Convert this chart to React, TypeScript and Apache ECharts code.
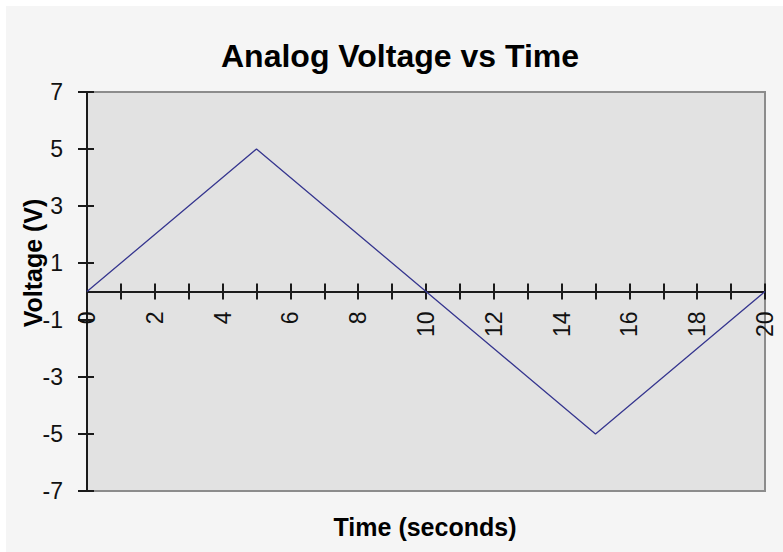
import React, { useEffect, useRef } from "react";
import * as echarts from "echarts";

const timeSeconds = [0, 1, 2, 3, 4, 5, 6, 7, 8, 9, 10, 11, 12, 13, 14, 15, 16, 17, 18, 19, 20];
const voltage = [0, 1, 2, 3, 4, 5, 4, 3, 2, 1, 0, -1, -2, -3, -4, -5, -4, -3, -2, -1, 0];
const yTickValues = [-7, -5, -3, -1, 1, 3, 5, 7];
const xLabelValues = [0, 2, 4, 6, 8, 10, 12, 14, 16, 18, 20];
const chartTitle = "Analog Voltage vs Time";
const xTitle = "Time (seconds)";
const yTitle = "Voltage (V)";

const FONT = "'Liberation Sans', Arial, sans-serif";
const OFF = 6;

export default function App() {
  const ref = useRef<HTMLDivElement>(null);
  useEffect(() => {
    if (!ref.current) return;
    const chart = echarts.init(ref.current, undefined, { renderer: "svg" });
    const axisColor = "#1a1a1a";
    const gridLeft = 87 - OFF;
    const gridTop = 92 - OFF;
    const gridRight = 18;
    const gridBottom = 61;
    const H = 552 - OFF;
    const plotH = H - gridTop - gridBottom;
    const lineStyle = { color: axisColor, width: 2 };
    chart.setOption({
      animation: false,
      backgroundColor: "#f5f5f5",
      grid: [
        {
          left: gridLeft,
          top: gridTop,
          right: gridRight,
          bottom: gridBottom,
          show: true,
          backgroundColor: "#e2e2e2",
          borderColor: "#8c8c8c",
          borderWidth: 2,
        },
        {
          left: gridLeft,
          top: gridTop,
          right: gridRight,
          height: plotH / 2,
          show: false,
        },
      ],
      xAxis: [
        {
          gridIndex: 0,
          type: "value",
          min: 0,
          max: 20,
          show: false,
        },
        {
          gridIndex: 1,
          type: "value",
          min: 0,
          max: 20,
          interval: 1,
          position: "bottom",
          axisLine: { show: true, onZero: false, lineStyle },
          axisTick: { show: true, length: 8, lineStyle },
          axisLabel: {
            customValues: xLabelValues,
            rotate: 90,
            margin: 20,
            fontSize: 23,
            fontFamily: FONT,
            color: "#111",
          },
          splitLine: { show: false },
        },
        {
          gridIndex: 1,
          type: "value",
          min: 0,
          max: 20,
          interval: 1,
          position: "bottom",
          axisLine: { show: false, onZero: false },
          axisTick: { show: true, inside: true, length: 8, lineStyle },
          axisLabel: { show: false },
          splitLine: { show: false },
        },
      ],
      yAxis: [
        {
          gridIndex: 0,
          type: "value",
          min: -7,
          max: 7,
          position: "left",
          axisLine: { show: true, onZero: false, lineStyle },
          axisTick: { show: true, customValues: yTickValues, length: 9, lineStyle },
          axisLabel: {
            customValues: yTickValues,
            margin: 24,
            fontSize: 23,
            fontFamily: FONT,
            color: "#111",
          },
          splitLine: { show: false },
        },
        {
          gridIndex: 0,
          type: "value",
          min: -7,
          max: 7,
          position: "left",
          axisLine: { show: false, onZero: false },
          axisTick: { show: true, inside: true, customValues: yTickValues, length: 7, lineStyle },
          axisLabel: { show: false },
          splitLine: { show: false },
        },
        {
          gridIndex: 1,
          type: "value",
          min: 0,
          max: 7,
          show: false,
        },
      ],
      series: [
        {
          type: "line",
          xAxisIndex: 0,
          yAxisIndex: 0,
          data: timeSeconds.map((t, i) => [t, voltage[i]]),
          showSymbol: false,
          symbol: "none",
          lineStyle: { color: "#36368f", width: 1.3 },
          z: 1,
        },
      ],
      graphic: [
        {
          type: "text",
          x: 400 - OFF,
          y: 56 - OFF,
          style: {
            text: chartTitle,
            fontSize: 32,
            fontWeight: "bold",
            fontFamily: FONT,
            fill: "#000",
            textAlign: "center",
            textVerticalAlign: "middle",
          },
        },
        {
          type: "text",
          x: 425 - OFF,
          y: 527 - OFF,
          style: {
            text: xTitle,
            fontSize: 25,
            fontWeight: "bold",
            fontFamily: FONT,
            fill: "#000",
            textAlign: "center",
            textVerticalAlign: "middle",
          },
        },
        {
          type: "text",
          x: 33 - OFF,
          y: 263 - OFF,
          rotation: Math.PI / 2,
          style: {
            text: yTitle,
            fontSize: 25,
            fontWeight: "bold",
            fontFamily: FONT,
            fill: "#000",
            textAlign: "center",
            textVerticalAlign: "middle",
          },
        },
      ],
    });
    return () => chart.dispose();
  }, []);
  return (
    <div style={{ position: "fixed", left: 0, top: 0, width: 783, height: 552, background: "#ffffff" }}>
      <div ref={ref} style={{ position: "absolute", left: OFF, top: OFF, width: 783 - OFF, height: 552 - OFF }} />
    </div>
  );
}
